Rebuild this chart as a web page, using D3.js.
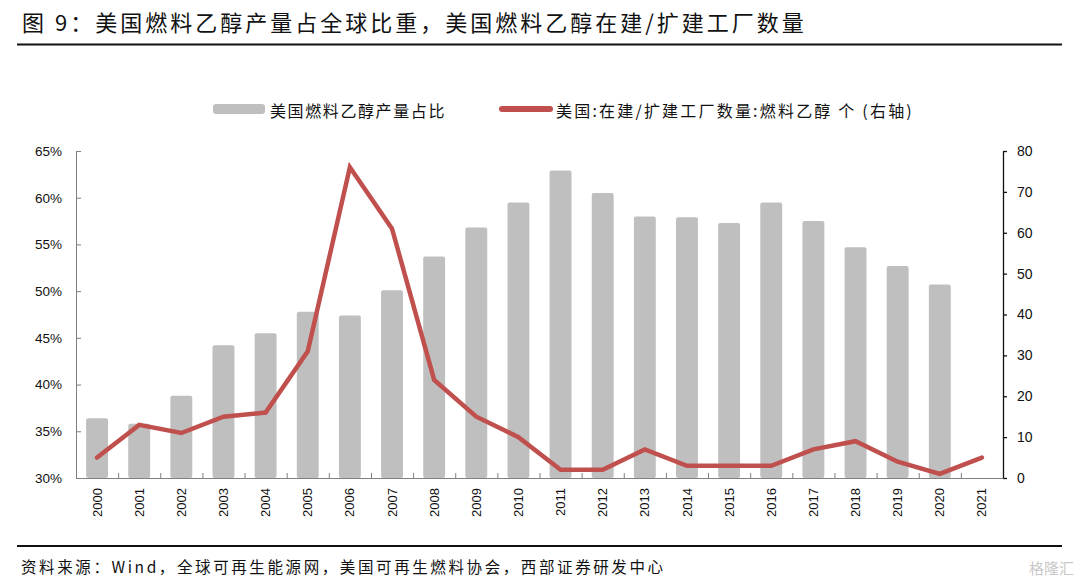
<!DOCTYPE html>
<html>
<head>
<meta charset="utf-8">
<script src="https://cdn.jsdelivr.net/npm/d3@7"></script>
<style>
  body { margin: 0; background: #fff; }
  svg text { font-family: "Liberation Sans", Arial, "Noto Sans CJK SC", sans-serif; }
  .cjk { font-family: "Noto Sans CJK SC", sans-serif; }
</style>
</head>
<body>
<svg id="chart" width="1080" height="584"></svg>
<script>
// Data
const years = ['2000','2001','2002','2003','2004','2005','2006','2007','2008','2009','2010',
               '2011','2012','2013','2014','2015','2016','2017','2018','2019','2020','2021'];
// US fuel ethanol share of world output (%), 2021 missing
const shareValues = [36.4, 35.8, 38.8, 44.2, 45.5, 47.8, 47.4, 50.1, 53.7, 56.8, 59.5,
                     62.9, 60.5, 58.0, 57.9, 57.3, 59.5, 57.5, 54.7, 52.7, 50.7, null];
// plants under construction / expansion (right axis)
const plantValues = [5, 13, 11, 15, 16, 31, 76, 61, 24, 15, 10,
                     2, 2, 7, 3, 3, 3, 7, 9, 4, 1, 5];
const leftTicks = [30, 35, 40, 45, 50, 55, 60, 65];
const rightTicks = [0, 10, 20, 30, 40, 50, 60, 70, 80];

const svg = d3.select('#chart');
const plot = { left: 76, right: 1003, top: 151, bottom: 478 };

// Title and rules
svg.append('text')
    .attr('class', 'cjk')
    .attr('x', 22).attr('y', 21)
    .attr('dominant-baseline', 'central')
    .attr('font-size', 22)
    .attr('letter-spacing', 3)
    .attr('fill', '#111')
    .text('图 9：美国燃料乙醇产量占全球比重，美国燃料乙醇在建/扩建工厂数量');

svg.append('line')
    .attr('x1', 17).attr('x2', 1062).attr('y1', 44.5).attr('y2', 44.5)
    .attr('stroke', '#111').attr('stroke-width', 2);

svg.append('line')
    .attr('x1', 17).attr('x2', 1062).attr('y1', 546).attr('y2', 546)
    .attr('stroke', '#111').attr('stroke-width', 2);

svg.append('text')
    .attr('class', 'cjk')
    .attr('x', 21).attr('y', 566)
    .attr('dominant-baseline', 'central')
    .attr('font-size', 15.5)
    .attr('letter-spacing', 2.6)
    .attr('fill', '#111')
    .text('资料来源：Wind，全球可再生能源网，美国可再生燃料协会，西部证券研发中心');

svg.append('text')
    .attr('class', 'cjk')
    .attr('x', 1074).attr('y', 567)
    .attr('text-anchor', 'end')
    .attr('dominant-baseline', 'central')
    .attr('font-size', 15)
    .attr('fill', '#c8c8c8')
    .text('格隆汇');

// Scales
const x = d3.scaleBand()
    .domain(years)
    .range([plot.left, plot.right])
    .paddingInner(0.48)
    .paddingOuter(0.24);

const xEdge = d3.scaleLinear()
    .domain([0, years.length])
    .range([plot.left, plot.right]);

const yLeft = d3.scaleLinear().domain([30, 65]).range([plot.bottom, plot.top]);
const yRight = d3.scaleLinear().domain([0, 80]).range([plot.bottom, plot.top]);

// Bars
svg.append('g').selectAll('rect')
    .data(years.map((y, i) => ({ year: y, v: shareValues[i] })).filter(d => d.v != null))
    .join('rect')
    .attr('x', d => x(d.year))
    .attr('width', x.bandwidth())
    .attr('y', d => yLeft(d.v))
    .attr('height', d => yLeft(30) - yLeft(d.v))
    .attr('rx', 2)
    .attr('fill', '#bfbfbf');

// Left axis
const gLeft = svg.append('g')
    .attr('transform', `translate(${plot.left},0)`)
    .call(d3.axisLeft(yLeft)
        .tickValues(leftTicks)
        .tickSize(-5)
        .tickSizeOuter(0)
        .tickPadding(14)
        .tickFormat(d => d + '%'));
gLeft.selectAll('path, line').attr('stroke', '#7f7f7f');
gLeft.selectAll('text').attr('font-size', 13.5).attr('fill', '#111');

// Right axis
const gRight = svg.append('g')
    .attr('transform', `translate(${plot.right},0)`)
    .call(d3.axisRight(yRight)
        .tickValues(rightTicks)
        .tickSize(4)
        .tickSizeOuter(0)
        .tickPadding(10));
gRight.selectAll('path, line').attr('stroke', '#111').attr('stroke-width', 1.3);
gRight.selectAll('text').attr('font-size', 14).attr('fill', '#111');

// Bottom axis: ticks at category edges, labels at centres
const gEdge = svg.append('g')
    .attr('transform', `translate(0,${plot.bottom})`)
    .call(d3.axisBottom(xEdge)
        .tickValues(d3.range(1, years.length))
        .tickSize(-5)
        .tickSizeOuter(0)
        .tickFormat(''));
gEdge.selectAll('path, line').attr('stroke', '#7f7f7f');

const gBottom = svg.append('g')
    .attr('transform', `translate(0,${plot.bottom})`)
    .call(d3.axisBottom(x).tickSize(0).tickPadding(0));
gBottom.select('.domain').remove();
gBottom.selectAll('text')
    .attr('font-size', 13)
    .attr('fill', '#111')
    .attr('text-anchor', 'end')
    .attr('dy', '0.35em')
    .attr('transform', 'translate(0,10) rotate(-90)')
    .attr('x', 0).attr('y', 0);

// Line on right axis
const line = d3.line()
    .x((d, i) => x(years[i]) + x.bandwidth() / 2)
    .y(d => yRight(d));

svg.append('path')
    .datum(plantValues)
    .attr('d', line)
    .attr('fill', 'none')
    .attr('stroke', '#c0504d')
    .attr('stroke-width', 4.5)
    .attr('stroke-linecap', 'round');

// Legend
const legend = svg.append('g');
legend.append('rect')
    .attr('x', 213).attr('y', 104).attr('width', 52).attr('height', 10)
    .attr('rx', 3).attr('fill', '#bfbfbf');
legend.append('text')
    .attr('class', 'cjk')
    .attr('x', 270).attr('y', 110)
    .attr('dominant-baseline', 'central')
    .attr('font-size', 16).attr('letter-spacing', 1.6)
    .attr('fill', '#111')
    .text('美国燃料乙醇产量占比');
legend.append('line')
    .attr('x1', 502).attr('x2', 550).attr('y1', 109).attr('y2', 109)
    .attr('stroke', '#c0504d').attr('stroke-width', 6).attr('stroke-linecap', 'round');
legend.append('text')
    .attr('class', 'cjk')
    .attr('x', 556).attr('y', 110)
    .attr('dominant-baseline', 'central')
    .attr('font-size', 16).attr('letter-spacing', 2.2)
    .attr('fill', '#111')
    .text('美国:在建/扩建工厂数量:燃料乙醇 个 (右轴)');
</script>
</body>
</html>
